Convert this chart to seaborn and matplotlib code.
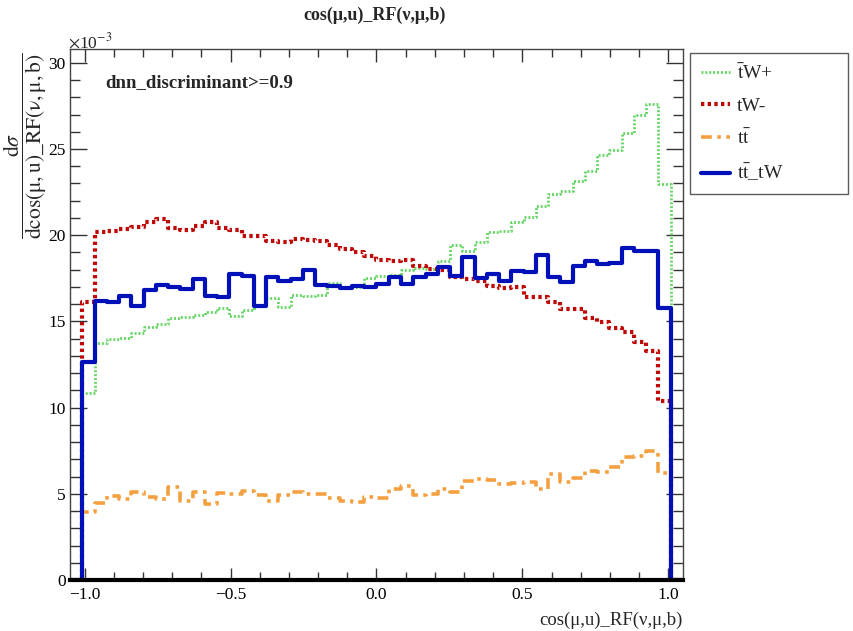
import numpy as np
import pandas as pd
import matplotlib
matplotlib.use("Agg")
import matplotlib.pyplot as plt
from matplotlib.ticker import MultipleLocator, FixedLocator
from matplotlib.lines import Line2D
import seaborn as sns

# ---- data (units of 1e-3), 50 bins from -1.05 to 1.05, outer bins empty ----
bin_lo = -1.05
bin_hi = 1.05
n_bins = 50

tW_plus = [10.83, 13.74, 13.99, 14.03, 14.32, 14.67, 14.84, 15.19, 15.23, 15.38, 15.52, 15.77,
           15.34, 15.67, 15.90, 16.35, 15.86, 16.54, 16.48, 16.54, 17.22, 17.02, 16.99, 17.49,
           17.66, 17.70, 17.99, 18.09, 18.03, 18.53, 19.44, 19.11, 19.60, 20.18, 20.22, 20.76,
           21.05, 21.67, 22.38, 22.58, 23.12, 23.70, 24.67, 24.96, 25.93, 26.95, 27.63, 22.97]

tW_minus = [16.15, 20.16, 20.27, 20.35, 20.50, 20.76, 20.93, 20.41, 20.31, 20.56, 20.74, 20.40,
            20.31, 19.93, 19.98, 19.67, 19.60, 19.79, 19.73, 19.67, 19.44, 19.19, 19.02, 18.77,
            18.57, 18.51, 18.57, 18.19, 18.03, 17.99, 17.60, 17.47, 17.35, 17.08, 16.93, 17.01,
            16.44, 16.40, 16.15, 15.73, 15.73, 15.19, 14.96, 14.61, 14.38, 13.80, 13.29, 10.41]

ttbar = [3.93, 4.49, 4.88, 4.70, 5.09, 4.80, 4.70, 5.38, 4.58, 5.09, 4.41, 5.07,
         4.99, 5.18, 4.93, 4.60, 4.93, 5.09, 4.99, 4.99, 4.78, 4.60, 4.51, 4.79,
         4.78, 5.28, 5.46, 4.93, 4.97, 5.28, 5.13, 5.76, 5.86, 5.80, 5.57, 5.61,
         5.71, 5.26, 6.15, 5.71, 5.94, 6.33, 6.29, 6.58, 7.16, 7.21, 7.49, 6.19]

tt_tW = [12.65, 16.20, 16.10, 16.50, 15.90, 16.80, 17.10, 17.00, 16.90, 17.45, 16.50, 16.40,
         17.75, 17.64, 15.90, 17.57, 17.37, 17.47, 18.00, 17.10, 17.06, 16.95, 17.06, 16.98,
         17.18, 17.57, 17.16, 17.55, 17.76, 18.15, 17.66, 18.73, 17.51, 17.74, 17.35, 17.94,
         17.84, 18.86, 17.60, 17.31, 18.19, 18.48, 18.34, 18.40, 19.23, 19.07, 19.07, 15.79]

series_names = [r"$\bar{\mathrm{t}}$W+", "tW-", r"t$\bar{\mathrm{t}}$", r"t$\bar{\mathrm{t}}$_tW"]
series_vals = [tW_plus, tW_minus, ttbar, tt_tW]

x_ticks = [-1.0, -0.5, 0.0, 0.5, 1.0]
y_ticks = [0, 5, 10, 15, 20, 25, 30]

axis_title = "cos(μ,u)_RF(ν,μ,b)"

# ---- style ----
sns.set_style("ticks")
plt.rcParams["font.family"] = ["Liberation Serif", "DejaVu Serif"]
plt.rcParams["mathtext.fontset"] = "stix"

colors = ["#62d562", "#bf0a0a", "#f5a040", "#0010b8"]
styles = [(0, (0.7, 0.7)), (0, (0.8, 0.8)), (0, (3.0, 1.5, 1.0, 1.5)), "-"]
widths = [2.0, 3.0, 2.6, 3.0]

fig = plt.figure(figsize=(8.54, 6.31), dpi=100)
W, H = 854, 631
ax = fig.add_axes([70 / W, 51 / H, 613 / W, 531 / H])

edges = np.linspace(bin_lo, bin_hi, n_bins + 1)
for name, vals, c, ls, lw in zip(series_names, series_vals, colors, styles, widths):
    full = np.concatenate([[0.0], np.asarray(vals, float), [0.0]])
    yy = np.append(full, full[-1])
    df = pd.DataFrame({"x": edges, "y": yy})
    sns.lineplot(data=df, x="x", y="y", ax=ax, color=c, linestyle=ls, linewidth=lw,
                 drawstyle="steps-post", estimator=None, sort=False, legend=False)

ax.set_xlim(-1.05, 1.05)
ax.set_ylim(0, 30.8)
ax.set_xlabel("")
ax.set_ylabel("")

ax.xaxis.set_major_locator(FixedLocator(x_ticks))
ax.xaxis.set_minor_locator(MultipleLocator(0.1))
ax.yaxis.set_major_locator(FixedLocator(y_ticks))
ax.yaxis.set_minor_locator(MultipleLocator(1))
ax.set_xticklabels([f"{v:.1f}".replace("-", "\u2212") for v in x_ticks])
ax.set_yticklabels([str(v) for v in y_ticks])

ax.tick_params(axis="both", which="both", direction="in", top=True, right=True,
               labelsize=12.5, colors="#333333", labelcolor="black", width=1.0)
ax.tick_params(axis="y", which="major", length=12, pad=3)
ax.tick_params(axis="y", which="minor", length=7)
ax.tick_params(axis="x", which="major", length=9, pad=5)
ax.tick_params(axis="x", which="minor", length=5.5)

for s in ["left", "right", "top"]:
    ax.spines[s].set_color("#444444")
    ax.spines[s].set_linewidth(1.0)
ax.spines["bottom"].set_color("black")
ax.spines["bottom"].set_linewidth(3.0)

# texts
fig.text(375 / W, 1 - 15 / H, axis_title, ha="center", va="center",
         fontsize=13, fontweight="bold")
ax.text(0.057, 0.937, "dnn_discriminant>=0.9", transform=ax.transAxes, ha="left", va="center",
        fontsize=13.5, fontweight="bold")
fig.text(68 / W, 1 - 42 / H, r"$\times$10$^{-3}$", ha="left", va="center", fontsize=12.5)
fig.text(683 / W, 1 - 620 / H, axis_title, ha="right", va="center", fontsize=13.5)
fig.text(25 / W, 1 - 52 / H,
         r"$\dfrac{\mathrm{d}σ}{\mathrm{dcos(μ,u)\_RF(ν,μ,b)}}$",
         rotation=90, ha="center", va="top", fontsize=15.5)

# legend
handles = [Line2D([0], [0], color=c, linestyle=ls, linewidth=lw)
           for c, ls, lw in zip(colors, styles, widths)]
leg = fig.legend(handles, series_names, loc="upper left",
                 bbox_to_anchor=(690 / W, 1 - 187 / H, 158 / W, 134 / H), mode="expand",
                 fontsize=14, frameon=True, fancybox=False, borderpad=0.55,
                 labelspacing=0.72, handlelength=1.5, handletextpad=0.35,
                 borderaxespad=0.0)
leg.get_frame().set_edgecolor("#333333")
leg.get_frame().set_linewidth(1.0)

fig.savefig("out.png", dpi=100)
